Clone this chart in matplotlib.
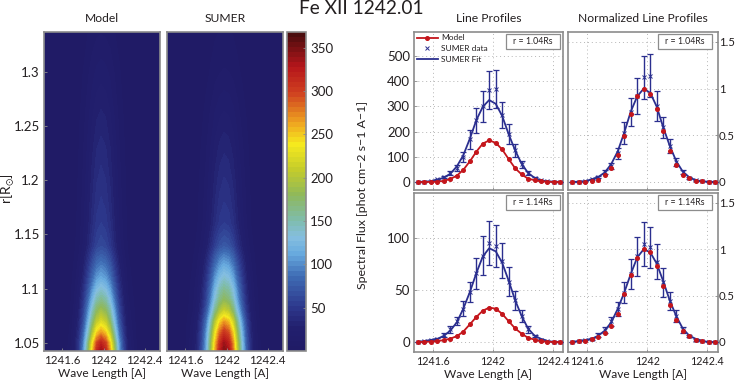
import numpy as np
import matplotlib
matplotlib.use("Agg")
import matplotlib.pyplot as plt
from matplotlib.colors import LinearSegmentedColormap
from matplotlib.patches import Rectangle

plt.rcParams["font.family"] = ["Lato", "DejaVu Sans"]
plt.rcParams["mathtext.default"] = "regular"

W, H = 735, 381
NAVY = "#2b2f8f"
RED = "#c4161c"
EDGE = "#8c8c8c"
TXT = "#231f20"

# wavelength grid of the line profiles
wave = [1241.50, 1241.543, 1241.587, 1241.63, 1241.673, 1241.717, 1241.76, 1241.803,
        1241.847, 1241.89, 1241.933, 1241.976, 1242.02, 1242.063, 1242.106, 1242.15,
        1242.193, 1242.236, 1242.28, 1242.323, 1242.366, 1242.41, 1242.453]

# r = 1.04
model_104 = [0, 0, 0, 1.6, 4, 12, 25, 48, 82, 120, 152, 165, 155, 129, 91, 54, 30, 13, 7, 2.5, 1, 0, 0]
fit_104 = [0, 1, 3, 9, 17, 33, 62, 106, 172, 245, 298, 325, 310, 262, 190, 125, 72, 36, 16, 6, 2, 1, 0]
data_104 = [0, 1, 3, 10, 18, 35, 55, 100, 170, 245, 300, 365, 370, 265, 190, 125, 70, 35, 15, 6, 2, 1, 0]
err_104 = [0, 0, 1, 2, 4, 7, 11, 20, 38, 49, 62, 75, 75, 52, 38, 25, 14, 7, 3, 1, 0, 0, 0]

# r = 1.14
model_114 = [0, 0.2, 0.3, 1, 1.7, 3.3, 5.6, 10, 17, 24, 30, 33, 32, 27, 20, 13, 8, 4, 2.3, 0.7, 0.3, 0, 0]
fit_114 = [0, 1, 2, 3, 6, 11, 19, 32, 48, 66, 82, 90, 87, 76, 59, 40, 25, 13, 6, 3, 1, 0, 0]
data_114 = [0, 1, 2, 3, 7, 12, 20, 32, 48, 66, 83, 95, 92, 78, 58, 40, 25, 12, 6, 2, 1, 0, 0]
err_114 = [0, 0, 0, 1, 2, 3, 4, 7, 10, 15, 19, 21, 20, 17, 14, 9, 6, 3, 1, 1, 0, 0, 0]

# peak of each image along the slit
radius = [1.04, 1.05, 1.06, 1.07, 1.08, 1.09, 1.10, 1.11, 1.12, 1.13, 1.14, 1.16, 1.18,
          1.20, 1.23, 1.26, 1.30, 1.34]
peak_model = [345, 318, 265, 222, 190, 160, 135, 112, 95, 78, 62, 52, 47, 43, 37, 30, 20, 10]
peak_sumer = [350, 335, 305, 265, 212, 178, 158, 136, 116, 95, 72, 52, 46, 41, 33, 24, 12, 6]

cbar_ticks = [50, 100, 150, 200, 250, 300, 350]
wave_ticks = [1241.6, 1242, 1242.4]
wave_labels = ["1241.6", "1242", "1242.4"]


def box(x0, y0, x1, y1):
    return [x0 / W, 1 - y1 / H, (x1 - x0) / W, (y1 - y0) / H]


def style(ax):
    for spine in ax.spines.values():
        spine.set_color(EDGE)
        spine.set_linewidth(1.2)
    ax.tick_params(colors=TXT, labelsize=8.3, length=2, width=0.6, color=EDGE, direction="in", pad=3)


jet = LinearSegmentedColormap.from_list("jetish", [
    (0.0, "#201b66"), (25 / 368, "#221f6e"), (50 / 368, "#2e3a8e"), (85 / 368, "#3f6db5"),
    (110 / 368, "#67a9de"), (130 / 368, "#85bfe0"), (150 / 368, "#7fbcab"), (180 / 368, "#8fb85a"),
    (210 / 368, "#c4cc2b"), (240 / 368, "#f6e91e"), (265 / 368, "#eea320"), (300 / 368, "#cf3f20"),
    (330 / 368, "#b5161b"), (1.0, "#4b0d0e")], N=64)

fig = plt.figure(figsize=(W / 100, H / 100), dpi=100)
levels = np.linspace(0, 368, 65)
shape_model = np.array(model_104) / max(model_104)
shape_sumer = np.array(fit_104) / max(fit_104)

for rect, peaks, shape, title in [((44, 32, 160, 351), peak_model, shape_model, "Model"),
                                  ((167, 32, 283, 351), peak_sumer, shape_sumer, "SUMER")]:
    ax = fig.add_axes(box(*rect))
    cf = ax.contourf(wave, radius, np.outer(peaks, shape), levels=levels, cmap=jet)
    ax.set_facecolor(jet(0))
    ax.set_xlim(1241.42, 1242.55)
    ax.set_ylim(1.0426, 1.3366)
    ax.set_xticks(wave_ticks, wave_labels)
    ax.set_xlabel("Wave Length [A]", fontsize=8.6, color=TXT, labelpad=1)
    ax.set_title(title, fontsize=8.7, color=TXT, pad=7)
    style(ax)
    if title == "Model":
        ax.set_yticks([1.05, 1.1, 1.15, 1.2, 1.25, 1.3], ["1.05", "1.1", "1.15", "1.2", "1.25", "1.3"])
        ax.tick_params(axis="y", labelsize=9.5)
    else:
        ax.set_yticks([])

fig.text(8 / W, 1 - 189 / H, r"r[R$_{\odot}$]", fontsize=10, color=TXT, rotation=90, ha="center", va="center")

cax = fig.add_axes(box(287, 32, 306, 351))
cb = fig.colorbar(cf, cax=cax)
cb.set_ticks(cbar_ticks)
cb.minorticks_off()
style(cax)
cax.tick_params(labelsize=9.5)
cb.outline.set_edgecolor(EDGE)
cb.outline.set_linewidth(1.2)

panels = [
    ((414, 32, 563, 190), (-32, 595), [0, 100, 200, 300, 400, 500], "1.04", False, model_104, fit_104, data_104, err_104),
    ((568, 32, 718, 190), (-0.086, 1.607), [0, 0.5, 1, 1.5], "1.04", True, model_104, fit_104, data_104, err_104),
    ((414, 193, 563, 352), (-9.6, 143), [0, 50, 100], "1.14", False, model_114, fit_114, data_114, err_114),
    ((568, 193, 718, 352), (-0.108, 1.607), [0, 0.5, 1, 1.5], "1.14", True, model_114, fit_114, data_114, err_114),
]

for rect, ylim, yticks, rlabel, norm, model, fit, data, err in panels:
    ax = fig.add_axes(box(*rect))
    m, f, d, e = np.array(model, float), np.array(fit, float), np.array(data, float), np.array(err, float)
    if norm:
        m, d, e, f = m / m.max(), d / f.max(), e / f.max(), f / f.max()
    ax.grid(True, ls=(0, (1, 3)), lw=0.7, color="#b5b5b5")
    ax.set_axisbelow(True)
    # the normalized panels only show the model points, the fit line covers the rest
    ax.plot(wave, m, "o" if norm else "-o", color=RED, lw=1.3, ms=2.6, label="Model", zorder=5)
    ax.errorbar(wave, d, yerr=e, fmt="none", ecolor=NAVY, elinewidth=1.0, capsize=2.2, capthick=0.9, zorder=3)
    ax.plot(wave, d, "x", color=NAVY, ms=2.3, mew=0.7, label="SUMER data", zorder=3)
    ax.plot(wave, f, "-", color=NAVY, lw=1.3, label="SUMER Fit", zorder=4)
    ax.set_xlim(1241.473, 1242.47)
    ax.set_ylim(*ylim)
    ax.set_xticks(wave_ticks)
    ax.set_yticks(yticks)
    style(ax)
    ax.tick_params(axis="y", labelsize=9.5)
    ax.tick_params(axis="x", labelsize=7.7)
    if rect[1] == 193:
        ax.set_xticklabels(wave_labels)
        ax.set_xlabel("Wave Length [A]", fontsize=8.6, color=TXT, labelpad=1)
    else:
        ax.tick_params(axis="x", labelbottom=False)
    if norm:
        ax.yaxis.tick_right()
        ax.set_yticklabels(["0", "0.5", "1", "1.5"])
        ax.tick_params(axis="y", pad=0.5, labelsize=8.2)
    bx0 = 0.60 if norm else 0.617
    ax.add_patch(Rectangle((bx0, 0.895), 0.36, 0.09, transform=ax.transAxes, fc="white", ec=EDGE, lw=0.9, zorder=6))
    ax.text(bx0 + 0.18, 0.94, "r = %sRs" % rlabel, transform=ax.transAxes, ha="center", va="center",
            fontsize=6.3, color=TXT, zorder=7)
    if rect == (414, 32, 563, 190):
        ax.legend(loc="upper left", frameon=False, fontsize=6, borderaxespad=0.1, labelspacing=0.45,
                  handlelength=2.6, handletextpad=0.35, labelcolor=TXT, borderpad=0.2)
        ax.set_title("Line Profiles", fontsize=8.7, color=TXT, pad=7)
    if rect == (568, 32, 718, 190):
        ax.set_title("Normalized Line Profiles", fontsize=8.7, color=TXT, pad=7)

fig.text(361 / W, 1 - 8 / H, "Fe XII 1242.01", fontsize=13.8, color=TXT, ha="center", va="center")
fig.text(362 / W, 1 - 195 / H, "Spectral Flux [phot cm\u22122 s\u22121 A\u22121]", fontsize=8.9, color=TXT,
         rotation=90, ha="center", va="center")

fig.savefig("out.png", dpi=100)
